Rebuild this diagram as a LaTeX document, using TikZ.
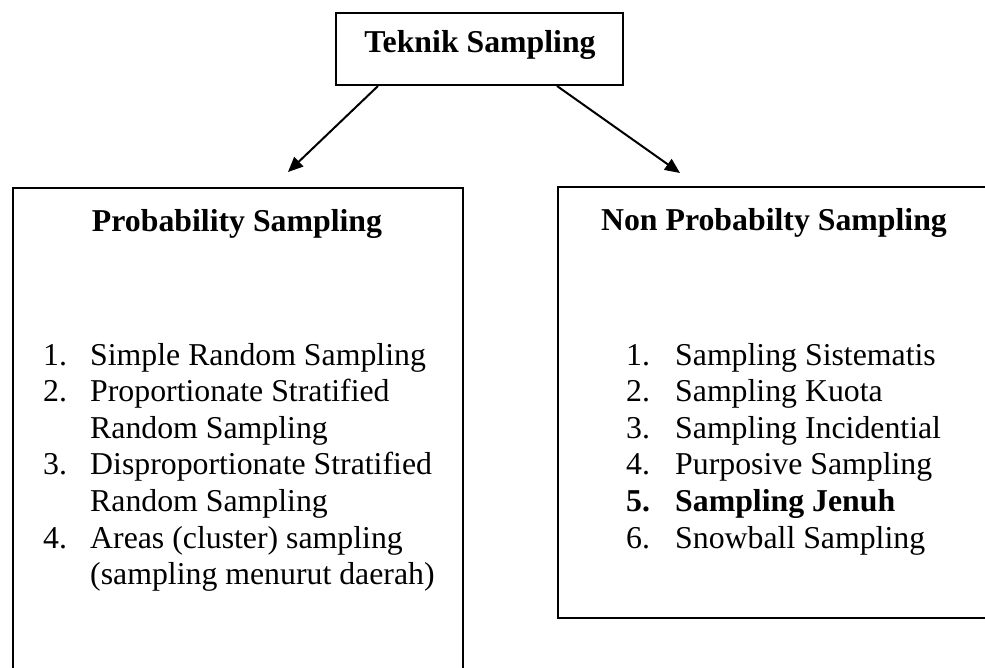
\documentclass[tikz,border=0pt]{standalone}
\usepackage{fontspec}
\setmainfont{Liberation Serif}
\usetikzlibrary{arrows.meta}
\begin{document}
\begin{tikzpicture}[x=1pt,y=-1pt,
  box/.style={draw, line width=2pt, fill=white, inner sep=0pt},
  txt/.style={font=\fontsize{31.8}{36.6}\selectfont, inner sep=0pt, anchor=base west},
  btxt/.style={txt, font=\fontsize{31.8}{36.6}\selectfont\bfseries},
  head/.style={font=\fontsize{31.8}{36.6}\selectfont\bfseries, inner sep=0pt, anchor=base},
  arr/.style={line width=2pt, -{Triangle[length=15pt,width=13pt]}}]
\useasboundingbox (0,0) rectangle (985,668);
\clip (0,0) rectangle (985,668);
% boxes
\node[box, minimum width=287pt, minimum height=72pt] (top) at (479.5,49) {};
\node[head] (toptxt) at (480,53) {Teknik Sampling};
\node[box, minimum width=450pt, minimum height=520pt, anchor=north west] (pbox) at (12,187) {};
\node[box, minimum width=440pt, minimum height=431pt, anchor=north west] (nbox) at (557,186) {};
\node[head] (ph) at (237,232) {Probability Sampling};
\node[head] (nh) at (774,231) {Non Probabilty Sampling};
% arrows
\coordinate (pt) at (288,172);
\coordinate (nt) at (680,173);
\draw[arr] ([xshift=-101.5pt]top.south) -- (pt);
\draw[arr] ([xshift=77.5pt]top.south) -- (nt);
% left list
\node[txt] (p1n) at (43,365) {1.};
\node[txt] (p1) at (90,365) {Simple Random Sampling};
\node[txt] (p2n) at (43,401.6) {2.};
\node[txt] (p2) at (90,401.6) {Proportionate Stratified};
\node[txt] (p2b) at (90,438.2) {Random Sampling};
\node[txt] (p3n) at (43,474.8) {3.};
\node[txt] (p3) at (90,474.8) {Disproportionate Stratified};
\node[txt] (p3b) at (90,511.4) {Random Sampling};
\node[txt] (p4n) at (43,548) {4.};
\node[txt] (p4) at (90,548) {Areas (cluster) sampling};
\node[txt] (p4b) at (90,584.6) {(sampling menurut daerah)};
% right list
\node[txt] (n1n) at (626,365) {1.};
\node[txt] (n1) at (675,365) {Sampling Sistematis};
\node[txt] (n2n) at (626,401.6) {2.};
\node[txt] (n2) at (675,401.6) {Sampling Kuota};
\node[txt] (n3n) at (626,438.2) {3.};
\node[txt] (n3) at (675,438.2) {Sampling Incidential};
\node[txt] (n4n) at (626,474.8) {4.};
\node[txt] (n4) at (675,474.8) {Purposive Sampling};
\node[btxt] (n5n) at (626,511.4) {5.};
\node[btxt] (n5) at (675,511.4) {Sampling Jenuh};
\node[txt] (n6n) at (626,548) {6.};
\node[txt] (n6) at (675,548) {Snowball Sampling};
\end{tikzpicture}
\end{document}
